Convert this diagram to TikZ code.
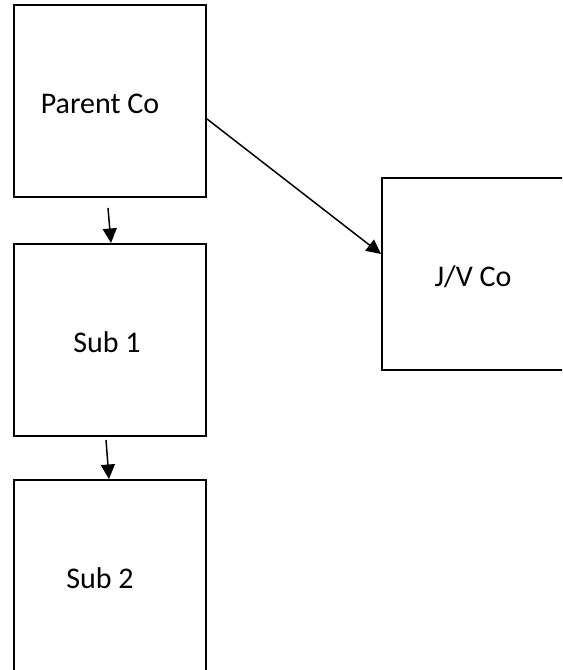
\documentclass[tikz,border=0pt]{standalone}
\usepackage{fontspec}
\setmainfont{Carlito}
\usetikzlibrary{arrows.meta}

\begin{document}
\begin{tikzpicture}[x=0.4pt,y=-0.4pt,
    box/.style={draw,line width=0.8pt,minimum width=76.8pt,minimum height=76.8pt,inner sep=0pt},
    lbl/.style={font=\fontsize{12}{14}\selectfont,inner sep=0pt},
    link/.style={line width=0.6pt,-{Triangle[length=5.8pt,width=5.6pt]}}]
        \useasboundingbox (0,0) rectangle (562,670);
        \clip (0,0) rectangle (562,670);
        % Caixas
        \node[box] (parent) at (110,101) {};
        \node[box] (sub1) at (110,340) {};
        \node[box] (sub2) at (110,576) {};
        \node[box] (jv) at (478,274) {};
        % Textos
        \node[lbl] (parenttxt) at (100,104) {Parent Co};
        \node[lbl] (sub1txt) at (107,342) {Sub 1};
        \node[lbl] (sub2txt) at (100,578) {Sub 2};
        \node[lbl] (jvtxt) at (473,277) {J/V Co};
        % Setas
        \coordinate (a1) at (108,208);
        \coordinate (a2) at (106,440);
        \draw[link] (a1) -- ([xshift=0.4pt]sub1.north);
        \draw[link] (a2) -- ([xshift=-0.4pt]sub2.north);
        \draw[link] ([yshift=-7.2pt]parent.east) -- ([yshift=8pt]jv.west);
    \end{tikzpicture}
\end{document}
